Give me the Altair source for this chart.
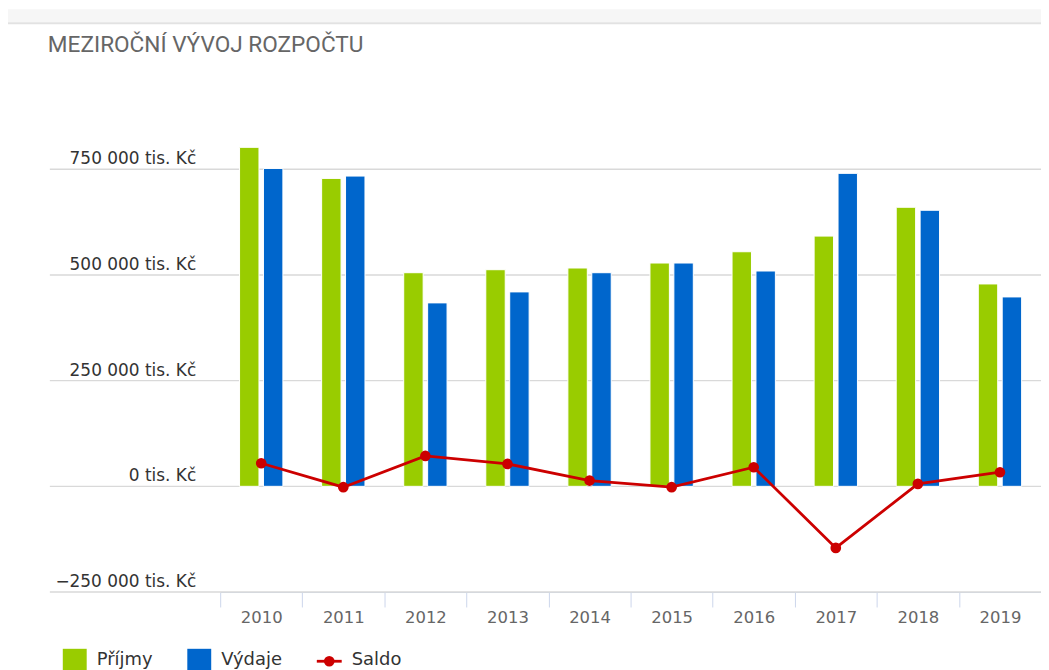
import altair as alt
import pandas as pd

# ---- data ----
years = ["2010", "2011", "2012", "2013", "2014", "2015", "2016", "2017", "2018", "2019"]
prijmy = [802000, 728500, 505400, 512500, 516500, 528300, 555000, 592000, 660200, 478800]
vydaje = [752000, 734000, 434000, 460000, 505400, 528300, 509400, 740400, 653100, 448100]
saldo = [54700, -2000, 71900, 53000, 13700, -2000, 45200, -145600, 5900, 33400]
y_ticks = [-250000, 0, 250000, 500000, 750000]
series_names = ["Příjmy", "Výdaje", "Saldo"]
title_text = "MEZIROČNÍ VÝVOJ ROZPOČTU"
unit = "tis. Kč"

# ---- styling / layout ----
C_GREEN = "#99cc00"
C_BLUE = "#0066cc"
C_RED = "#cc0000"
W, H = 824, 488
Y_DOMAIN = [-250000, 900000]
FONT = "DejaVu Sans"


def fmt(v):
    s = f"{abs(v):,}".replace(",", " ")
    return ("−" if v < 0 else "") + s + " " + unit


bars_df = pd.DataFrame(
    [{"year": y, "series": series_names[0], "value": v} for y, v in zip(years, prijmy)]
    + [{"year": y, "series": series_names[1], "value": v} for y, v in zip(years, vydaje)]
)
saldo_df = pd.DataFrame({"year": years, "value": saldo})
grid_df = pd.DataFrame({"v": y_ticks, "label": [fmt(v) for v in y_ticks]})

x_scale = alt.Scale(domain=years, paddingInner=0, paddingOuter=0)
y_scale = alt.Scale(domain=Y_DOMAIN, nice=False, zero=False)

x_axis = alt.Axis(
    title=None, labelAngle=0, labelFont=FONT, labelFontSize=16.5, labelColor="#666666",
    domainColor="#ccd6eb", domainWidth=1, tickColor="#ccd6eb", tickSize=15, tickWidth=1,
    tickBand="extent", labelPadding=3, grid=False,
)

header = alt.Chart(pd.DataFrame({"a": [0]})).mark_rect(color="#f6f6f6").encode(
    x=alt.value(-213), x2=alt.value(W + 4), y=alt.value(-97), y2=alt.value(-84)
)
header_line = alt.Chart(pd.DataFrame({"a": [0]})).mark_rule(color="#e2e2e2", strokeWidth=2).encode(
    x=alt.value(-213), x2=alt.value(W + 4), y=alt.value(-83)
)

grid = alt.Chart(grid_df).mark_rule(color="#d9d9d9", strokeWidth=1.4).encode(
    y=alt.Y("v:Q", scale=y_scale, axis=None), x=alt.value(-171), x2=alt.value(W + 1)
)
ylabels = alt.Chart(grid_df).mark_text(
    font=FONT, fontSize=17, color="#333333", align="right", baseline="alphabetic", dy=-5
).encode(
    y=alt.Y("v:Q", scale=y_scale, axis=None), x=alt.value(-24), text="label:N"
)

bars = alt.Chart(bars_df).mark_bar(stroke="white", strokeWidth=1).encode(
    x=alt.X("year:N", scale=x_scale, axis=x_axis, sort=years),
    xOffset=alt.XOffset("series:N", scale=alt.Scale(domain=series_names[:2], paddingInner=0.1875, paddingOuter=0.81)),
    y=alt.Y("value:Q", scale=y_scale, axis=None),
    color=alt.Color("series:N", scale=alt.Scale(domain=series_names[:2], range=[C_GREEN, C_BLUE]), legend=None),
)

line = alt.Chart(saldo_df).mark_line(color=C_RED, strokeWidth=2.8).encode(
    x=alt.X("year:N", scale=x_scale, sort=years, axis=x_axis),
    y=alt.Y("value:Q", scale=y_scale, axis=None),
)
pts = alt.Chart(saldo_df).mark_point(color=C_RED, filled=True, opacity=1, size=115).encode(
    x=alt.X("year:N", scale=x_scale, sort=years, axis=x_axis),
    y=alt.Y("value:Q", scale=y_scale, axis=None),
)

title = alt.Chart(pd.DataFrame({"t": [title_text]})).mark_text(
    font="Roboto", fontSize=22.7, color="#666666", align="left", baseline="alphabetic"
).encode(text="t:N", x=alt.value(-173), y=alt.value(-54))

# ---- manual legend (Highcharts style) ----
leg_green = alt.Chart(pd.DataFrame({"a": [0]})).mark_rect(color=C_GREEN).encode(
    x=alt.value(-158), x2=alt.value(-134), y=alt.value(545), y2=alt.value(569))
leg_blue = alt.Chart(pd.DataFrame({"a": [0]})).mark_rect(color=C_BLUE).encode(
    x=alt.value(-33), x2=alt.value(-9), y=alt.value(545), y2=alt.value(569))
leg_line = alt.Chart(pd.DataFrame({"a": [0]})).mark_rule(color=C_RED, strokeWidth=2.8).encode(
    x=alt.value(97), x2=alt.value(122), y=alt.value(557.5))
leg_dot = alt.Chart(pd.DataFrame({"a": [0]})).mark_point(color=C_RED, filled=True, opacity=1, size=115).encode(
    x=alt.value(109.5), y=alt.value(557.5))


def leg_text(label, xpos):
    return alt.Chart(pd.DataFrame({"t": [label]})).mark_text(
        font=FONT, fontSize=18, color="#333333", align="left", baseline="alphabetic"
    ).encode(text="t:N", x=alt.value(xpos), y=alt.value(561))


chart = alt.layer(
    header, header_line, grid, ylabels, bars, line, pts, title,
    leg_green, leg_blue, leg_line, leg_dot,
    leg_text(series_names[0], -124), leg_text(series_names[1], 1), leg_text(series_names[2], 132),
).properties(
    width=W, height=H,
    background="white",
    autosize=alt.AutoSizeParams(type="none"),
    padding={"left": 213, "top": 97, "right": 0, "bottom": 77},
).configure_view(stroke=None)

chart.save("out.html", embed_options={"renderer": "svg", "actions": False})
